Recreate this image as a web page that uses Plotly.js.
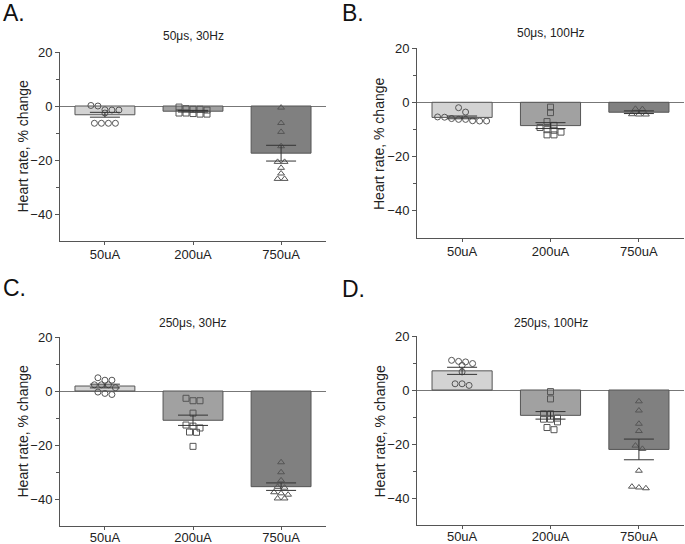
<!DOCTYPE html>
<html>
<head>
<meta charset="utf-8">
<script src="https://cdn.plot.ly/plotly-3.0.1.min.js"></script>
<style>html,body{margin:0;padding:0;background:#fff}#chart{width:685px;height:544px}</style>
</head>
<body>
<div id="chart"></div>
<script>
// ---- data ----
const categories = ['50uA', '200uA', '750uA'];
const panelLetters = ['A.', 'B.', 'C.', 'D.'];
const panelTitles = ['50μs, 30Hz', '50μs, 100Hz', '250μs, 30Hz', '250μs, 100Hz'];
const yAxisTitle = 'Heart rate, % change';
const yTickVals = [20, 0, -20, -40];
const yMinorTickVals = [10, -10, -30];

// Panel A: 50us, 30Hz
const A_50uA  = [0.2, 0, -1.4, -1.5, -1.5, -2.6, -6.4, -6.4, -6.4, -6.4];
const A_200uA = [-1.2, -1.0, -2.6, -2.8, -3.0, -3.0, -2.6, -1.5, -1.2, -0.4];
const A_750uA = [-0.6, -6.3, -9.6, -14.9, -20.7, -20.7, -22.9, -25.0, -27.0, -27.0];
// Panel B: 50us, 100Hz
const B_50uA  = [-2.0, -3.6, -5.4, -6.0, -6.8, -6.9, -6.9, -6.3, -6.3, -5.5];
const B_200uA = [-1.8, -3.8, -7.1, -8.5, -10.1, -11.0, -12.0, -12.0, -10.3, -9.3];
const B_750uA = [-2.4, -2.5, -4.5, -4.5, -4.4];
// Panel C: 250us, 30Hz
const C_50uA  = [4.9, 4.0, 4.0, 2.3, 2.3, 2.3, 1.2, -0.4, -0.9, -1.3];
const C_200uA = [-2.7, -3.6, -3.6, -8.2, -13.0, -12.6, -13.7, -15.2, -15.3, -20.5];
const C_750uA = [-26.4, -30.1, -33.1, -35.5, -35.8, -37.5, -38.4, -39.8, -39.8, -37.9];
// Panel D: 250us, 100Hz
const D_50uA  = [10.4, 9.8, 9.1, 10.6, 11.0, 6.7, 2.3, 1.7, 2.3];
const D_200uA = [-0.6, -3.3, -8.8, -8.8, -10.4, -10.8, -11.8, -10.8, -13.9, -14.7];
const D_750uA = [-4.2, -7.6, -12.5, -15.2, -21.8, -20.6, -29.9, -35.8, -36.4, -36.1];

const panelData = [
  [A_50uA, A_200uA, A_750uA],
  [B_50uA, B_200uA, B_750uA],
  [C_50uA, C_200uA, C_750uA],
  [D_50uA, D_200uA, D_750uA]
];

// ---- styling / geometry ----
const W = 685, H = 544;
const barColors = ['#d3d3d3', '#a1a1a1', '#808080'];
const symbols = ['circle-open', 'square-open', 'triangle-up-open'];
const lineCol = '#555555';
const FONT = 'Liberation Sans, Arial, sans-serif';
// pixel boxes of the plot areas [left, right, top(y=20), bottom(y=-50)]
const boxes = [
  [60, 326, 52, 241],
  [417, 684, 48, 238],
  [60, 326, 337, 526],
  [417, 684, 336, 525]
];
// pixel positions of panel letters (left, middle) and titles (middle y)
const letterPos = [[1, 13], [340, 13], [1, 288], [340, 289]];
const titleY = [36, 33, 323, 323];
const labelStandoff = [-2, -2, -4, -4];
const xRange = [-0.51, 2.51];
const yRange = [-50, 20];

function mean(a) { return a.reduce((s, v) => s + v, 0) / a.length; }
function sem(a) {
  const m = mean(a);
  const v = a.reduce((s, x) => s + (x - m) * (x - m), 0) / (a.length - 1);
  return Math.sqrt(v / a.length);
}
// simple row-based beeswarm: points at similar heights are spread in a centered row
function swarm(vals, pxPerY, pxPerX) {
  const idx = vals.map((v, i) => i).sort((a, b) => vals[b] - vals[a]);
  const offs = new Array(vals.length).fill(0);
  const thr = 5 / pxPerY;
  const step = 7 / pxPerX;
  let g = [];
  const flush = () => {
    g.forEach((k, j) => { offs[k] = (j - (g.length - 1) / 2) * step; });
    g = [];
  };
  idx.forEach(k => {
    if (g.length && vals[g[0]] - vals[k] > thr) flush();
    g.push(k);
  });
  flush();
  return offs;
}

const traces = [];
const layout = {
  width: W, height: H,
  margin: {l: 0, r: 0, t: 0, b: 0},
  paper_bgcolor: '#fff', plot_bgcolor: '#fff',
  showlegend: false,
  font: {family: FONT, color: '#222'},
  annotations: []
};

const px = x => x / W;
const py = y => 1 - y / H;

panelData.forEach((groups, p) => {
  const n = p + 1;
  const xa = 'x' + (n === 1 ? '' : n), ya = 'y' + (n === 1 ? '' : n);
  const [l, r, t, b] = boxes[p];
  const pxPerX = (r - l) / (xRange[1] - xRange[0]);
  const pxPerY = (b - t) / (yRange[1] - yRange[0]);
  const means = groups.map(mean);
  const sems = groups.map(sem);

  traces.push({
    type: 'bar', x: [0, 1, 2], y: means, width: 0.68,
    marker: {color: barColors, line: {color: lineCol, width: 1}},
    xaxis: xa, yaxis: ya, hoverinfo: 'skip'
  });
  groups.forEach((vals, i) => {
    const offs = swarm(vals, pxPerY, pxPerX);
    traces.push({
      type: 'scatter', mode: 'markers',
      x: offs.map(o => i + o), y: vals,
      marker: {symbol: symbols[i], size: 6, color: '#555', line: {width: 1, color: '#555'}},
      xaxis: xa, yaxis: ya, hoverinfo: 'skip'
    });
  });
  traces.push({
    type: 'scatter', mode: 'markers', x: [0, 1, 2], y: means,
    marker: {size: 1, color: 'rgba(0,0,0,0)'},
    error_y: {type: 'data', array: sems, visible: true, color: '#333', thickness: 1, width: 15},
    xaxis: xa, yaxis: ya, hoverinfo: 'skip'
  });

  layout['xaxis' + (n === 1 ? '' : n)] = {
    domain: [px(l), px(r)], range: xRange, anchor: ya,
    tickmode: 'array', tickvals: [0, 1, 2], ticktext: categories,
    ticks: 'outside', ticklen: 3, tickcolor: lineCol,
    ticklabelstandoff: labelStandoff[p],
    showline: true, linecolor: lineCol, linewidth: 1,
    showgrid: false, zeroline: false,
    tickfont: {family: FONT, size: 13, color: '#222'}, fixedrange: true
  };
  layout['yaxis' + (n === 1 ? '' : n)] = {
    domain: [py(b), py(t)], range: yRange, anchor: xa,
    tickmode: 'array', tickvals: yTickVals,
    ticks: 'outside', ticklen: 4, tickcolor: lineCol,
    minor: {tickmode: 'array', tickvals: yMinorTickVals, ticks: 'outside', ticklen: 3, tickcolor: lineCol, showgrid: false},
    showline: true, linecolor: lineCol, linewidth: 1,
    showgrid: false, zeroline: true, zerolinecolor: '#777', zerolinewidth: 1,
    tickfont: {family: FONT, size: 13, color: '#222'}, fixedrange: true
  };

  // panel title
  layout.annotations.push({
    text: panelTitles[p], xref: 'paper', yref: 'paper',
    x: px(l + pxPerX * (1 - xRange[0])), y: py(titleY[p]), xanchor: 'center', yanchor: 'middle',
    showarrow: false, font: {family: FONT, size: 12, color: '#222'}
  });
  // panel letter
  layout.annotations.push({
    text: panelLetters[p], xref: 'paper', yref: 'paper',
    x: px(letterPos[p][0]), y: py(letterPos[p][1]), xanchor: 'left', yanchor: 'middle',
    showarrow: false, font: {family: FONT, size: 23, color: '#111'}
  });
  // y axis title
  layout.annotations.push({
    text: yAxisTitle, xref: 'paper', yref: 'paper', textangle: -90,
    x: px(l - 38), y: py((t + b) / 2), xanchor: 'center', yanchor: 'middle',
    showarrow: false, font: {family: FONT, size: 14, color: '#222'}
  });
});

Plotly.newPlot('chart', traces, layout, {staticPlot: true, displayModeBar: false});
</script>
</body>
</html>
